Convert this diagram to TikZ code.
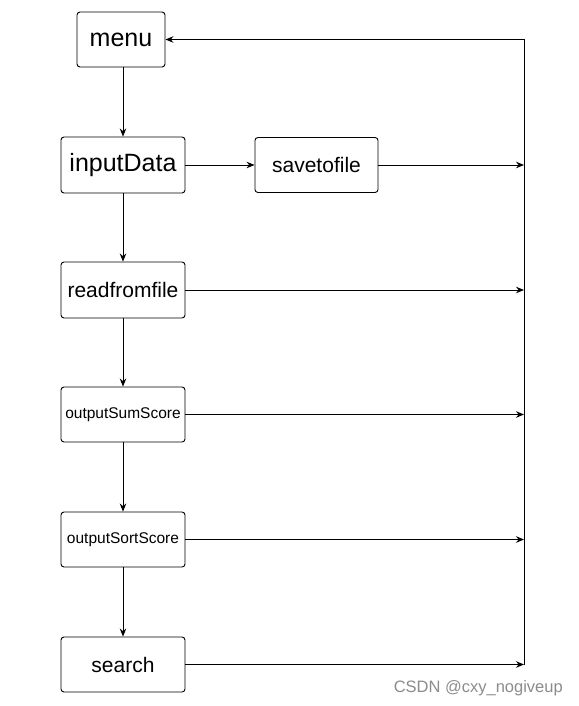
\documentclass[tikz,border=0pt]{standalone}
\usepackage{fontspec}
\setmainfont{Liberation Sans}
\usetikzlibrary{arrows.meta}
\begin{document}
\begin{tikzpicture}[x=1pt,y=-1pt,
  box/.style={draw, rounded corners=3pt, line width=0.9pt, inner sep=0pt},
  conn/.style={line width=0.9pt, -{Stealth[length=8pt,width=6.5pt]}},
  plain/.style={line width=0.9pt}]
\useasboundingbox (0,0) rectangle (578,706);
\fill[white] (0,0) rectangle (578,706);
\node[box, minimum width=88pt, minimum height=55pt, font=\fontsize{25}{28}\selectfont] (menu) at (121,39.5) {menu};
\node[box, minimum width=124pt, minimum height=56pt, font=\fontsize{25}{28}\selectfont] (input) at (123,165) {inputData};
\node[box, minimum width=123pt, minimum height=55pt, font=\fontsize{21}{24}\selectfont] (save) at (316.5,165) {savetofile};
\node[box, minimum width=124pt, minimum height=56pt, font=\fontsize{21}{24}\selectfont] (read) at (123,290) {readfromfile};
\node[box, minimum width=124pt, minimum height=55pt, font=\fontsize{15.5}{18}\selectfont] (sum) at (123,414.5) {outputSumScore};
\node[box, minimum width=124pt, minimum height=55pt, font=\fontsize{15.5}{18}\selectfont] (sort) at (123,539.5) {outputSortScore};
\node[box, minimum width=124pt, minimum height=55pt, font=\fontsize{21}{24}\selectfont] (search) at (123,664.5) {search};
\coordinate (top) at (524,39.5);
\coordinate (bot) at (524,665);
\coordinate (c1) at (524,165);
\coordinate (c2) at (524,290);
\coordinate (c3) at (524,414.5);
\coordinate (c4) at (524,539.5);
\coordinate (c5) at (524,664.5);
\draw[plain] (bot) -- (top);
\draw[conn] (top) -- (menu.east);
\draw[conn] (input.north |- menu.south) -- (input);
\draw[conn] (input) -- (save);
\draw[conn] (input) -- (read);
\draw[conn] (read) -- (sum);
\draw[conn] (sum) -- (sort);
\draw[conn] (sort) -- (search);
\draw[conn] (save.east) -- (c1);
\draw[conn] (read.east) -- (c2);
\draw[conn] (sum.east) -- (c3);
\draw[conn] (sort.east) -- (c4);
\draw[conn] (search.east) -- (c5);
\node[anchor=east, text=black!45, font=\fontsize{16.5}{18}\selectfont, inner sep=0pt] (wm) at (563,688) {CSDN @cxy\_nogiveup};
\end{tikzpicture}
\end{document}
